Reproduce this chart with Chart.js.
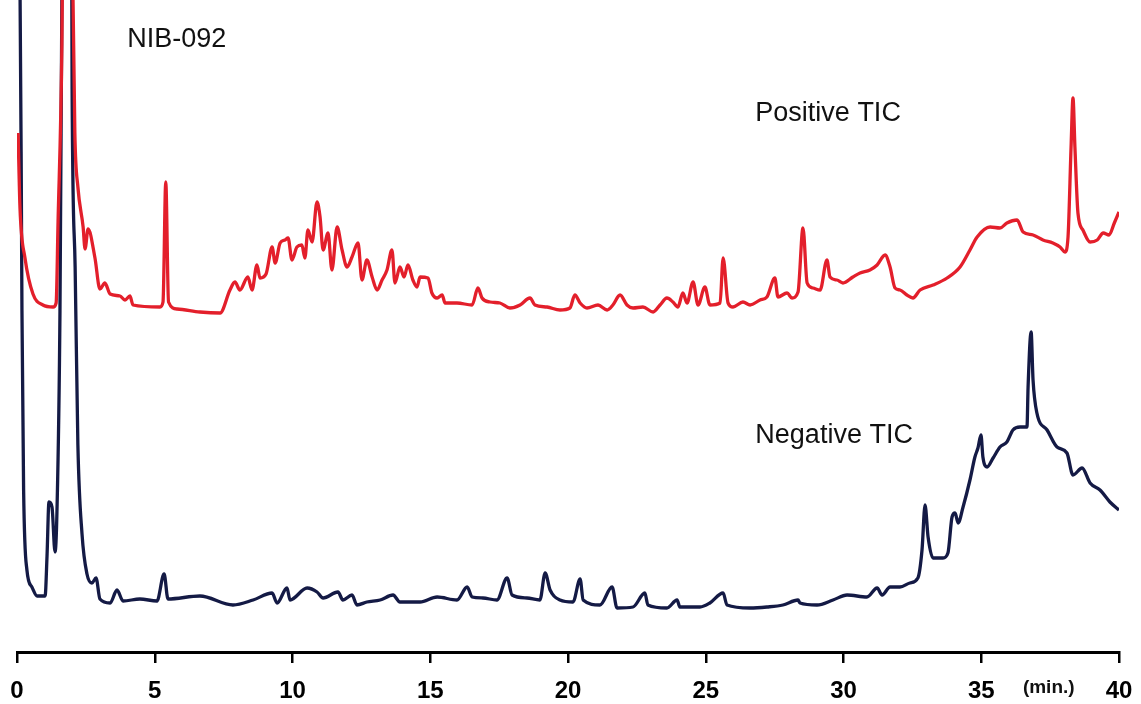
<!DOCTYPE html>
<html>
<head>
<meta charset="utf-8">
<script src="https://cdn.jsdelivr.net/npm/chart.js@4"></script>
<style>
  html, body { margin: 0; padding: 0; background: #fff; }
  canvas { display: block; }
</style>
</head>
<body>
<canvas id="tic" width="1141" height="704"></canvas>
<script>
// retention time (min) and relative intensity
var posTime = [0.04, 0.11, 0.29, 0.58, 0.94, 1.31, 1.42, 1.49, 1.63, 1.72, 1.95, 2.03, 2.10, 2.21, 2.40, 2.47, 2.58, 2.83, 3.01, 3.19, 3.38, 3.74, 3.92, 4.10, 4.21, 5.19, 5.30, 5.40, 5.50, 5.81, 6.64, 7.37, 7.73, 7.91, 8.09, 8.38, 8.53, 8.71, 8.82, 9.04, 9.26, 9.37, 9.55, 9.73, 9.84, 9.98, 10.16, 10.34, 10.45, 10.56, 10.71, 10.89, 11.00, 11.11, 11.29, 11.43, 11.62, 11.80, 11.98, 12.16, 12.38, 12.52, 12.70, 12.89, 13.07, 13.25, 13.43, 13.61, 13.72, 13.90, 14.05, 14.19, 14.37, 14.52, 14.63, 14.92, 15.06, 15.25, 15.43, 15.54, 15.97, 16.52, 16.73, 16.88, 17.17, 17.53, 17.89, 18.26, 18.62, 18.80, 19.24, 19.71, 20.07, 20.25, 20.44, 20.69, 21.09, 21.42, 21.63, 21.89, 22.14, 22.36, 22.72, 23.09, 23.34, 23.59, 23.81, 23.99, 24.17, 24.32, 24.54, 24.72, 24.97, 25.15, 25.52, 25.63, 25.81, 25.99, 26.35, 26.61, 26.97, 27.22, 27.51, 27.62, 27.95, 28.13, 28.35, 28.53, 28.68, 28.89, 29.15, 29.40, 29.51, 29.76, 29.98, 30.34, 30.60, 30.96, 31.22, 31.51, 31.69, 31.87, 32.05, 32.30, 32.52, 32.78, 33.25, 33.76, 34.23, 34.59, 34.85, 35.32, 35.68, 35.93, 36.30, 36.52, 36.88, 37.24, 37.60, 37.86, 38.04, 38.15, 38.26, 38.33, 38.40, 38.51, 38.69, 38.95, 39.21, 39.43, 39.64, 39.83, 40.00];
var posInt = [519, 443, 394, 358, 347, 345, 349, 430, 608, 900, 1000, 660, 519, 465, 425, 403, 423, 394, 363, 369, 358, 356, 352, 356, 347, 345, 350, 470, 350, 343, 340, 339, 362, 370, 362, 375, 362, 387, 374, 378, 405, 389, 409, 412, 414, 392, 405, 407, 394, 422, 410, 450, 435, 402, 419, 382, 425, 402, 385, 395, 409, 372, 392, 375, 362, 372, 382, 402, 369, 385, 375, 387, 372, 365, 375, 374, 359, 354, 357, 349, 349, 347, 364, 354, 350, 349, 344, 347, 354, 347, 345, 342, 344, 357, 349, 344, 347, 342, 347, 357, 347, 344, 345, 340, 347, 354, 350, 345, 359, 349, 370, 347, 365, 347, 349, 394, 349, 345, 350, 347, 352, 355, 374, 355, 359, 354, 360, 424, 369, 364, 362, 392, 375, 372, 369, 375, 379, 382, 387, 397, 385, 364, 362, 357, 354, 362, 367, 374, 385, 402, 415, 425, 424, 429, 432, 420, 417, 412, 409, 405, 400, 415, 505, 554, 505, 439, 422, 410, 412, 419, 417, 429, 440];

var negTime = [0.05, 0.15, 0.18, 0.24, 0.36, 0.54, 0.73, 1.02, 1.09, 1.16, 1.27, 1.38, 1.45, 1.56, 1.63, 1.70, 1.95, 2.00, 2.11, 2.21, 2.36, 2.54, 2.72, 2.87, 3.01, 3.38, 3.63, 3.85, 4.46, 5.08, 5.34, 5.48, 6.64, 7.84, 8.57, 9.26, 9.44, 9.80, 9.91, 10.53, 10.89, 11.11, 11.65, 11.83, 12.16, 12.34, 12.70, 13.18, 13.65, 13.90, 14.63, 15.25, 15.97, 16.34, 16.52, 16.91, 17.42, 17.79, 17.97, 18.51, 18.98, 19.17, 19.35, 19.71, 20.18, 20.44, 20.55, 21.16, 21.60, 21.78, 22.36, 22.79, 22.90, 23.59, 23.96, 24.06, 24.79, 25.15, 25.63, 25.77, 26.61, 27.22, 27.80, 28.35, 28.42, 29.04, 29.62, 30.13, 30.85, 31.22, 31.40, 31.69, 32.05, 32.41, 32.70, 32.85, 32.96, 33.07, 33.25, 33.61, 33.79, 33.94, 34.05, 34.16, 34.34, 34.59, 34.77, 34.88, 34.99, 35.06, 35.21, 35.43, 35.68, 35.93, 36.15, 36.41, 36.66, 36.70, 36.81, 36.88, 37.02, 37.39, 37.75, 38.11, 38.33, 38.66, 38.95, 39.31, 39.67, 40.00];
var negInt = [900, 500, 341, 162, 82, 65, 56, 56, 96, 150, 145, 100, 140, 341, 660, 900, 1000, 563, 385, 207, 118, 78, 69, 74, 53, 49, 62, 51, 53, 51, 78, 53, 56, 47, 52, 59, 49, 64, 52, 64, 60, 54, 60, 52, 57, 47, 50, 52, 57, 50, 50, 55, 52, 65, 55, 54, 52, 74, 57, 54, 52, 79, 62, 52, 50, 73, 52, 47, 65, 44, 45, 59, 47, 44, 52, 45, 45, 49, 59, 47, 44, 45, 47, 52, 49, 47, 52, 57, 55, 64, 57, 65, 65, 69, 74, 102, 147, 115, 94, 94, 99, 135, 139, 129, 145, 172, 195, 204, 217, 195, 185, 194, 205, 210, 222, 225, 225, 265, 320, 272, 239, 222, 205, 199, 177, 184, 169, 162, 150, 142];

var xTicks = [0, 5, 10, 15, 20, 25, 30, 35, 40];

// text labels: [text, time, intensity]
var notes = [
  ['NIB-092', 4.0, 605],
  ['Positive TIC', 26.8, 531],
  ['Negative TIC', 26.8, 209]
];

function pts(t, v) {
  var out = [];
  for (let i = 0; i < t.length; i++) out.push({x: t[i], y: v[i]});
  return out;
}

const notePlugin = {
  id: 'notes',
  afterDraw(chart) {
    const c = chart.ctx, xs = chart.scales.x, ys = chart.scales.y;
    c.save();
    c.fillStyle = '#111';
    c.font = '27px "Liberation Sans", Arial, sans-serif';
    c.textAlign = 'left';
    c.textBaseline = 'alphabetic';
    notes.forEach(n => c.fillText(n[0], xs.getPixelForValue(n[1]), ys.getPixelForValue(n[2])));
    // axis unit label, sits between the 35 and 40 ticks
    c.font = 'bold 19px "Liberation Sans Narrow", "Liberation Sans", Arial, sans-serif';
    c.textAlign = 'center';
    c.textBaseline = 'middle';
    c.fillText('(min.)', xs.getPixelForValue(37.45), xs.bottom - 16);
    c.restore();
  }
};

new Chart(document.getElementById('tic').getContext('2d'), {
  type: 'line',
  data: {
    datasets: [
      {label: 'Positive TIC', data: pts(posTime, posInt), borderColor: '#e31f2b', borderWidth: 3.3},
      {label: 'Negative TIC', data: pts(negTime, negInt), borderColor: '#141a45', borderWidth: 3.3}
    ]
  },
  options: {
    responsive: false,
    animation: false,
    layout: {padding: {left: 17, right: 22, top: 0, bottom: 0}},
    plugins: {legend: {display: false}, tooltip: {enabled: false}},
    elements: {point: {radius: 0}, line: {cubicInterpolationMode: 'monotone', borderJoinStyle: 'round'}},
    scales: {
      x: {
        type: 'linear', min: 0, max: 40,
        afterBuildTicks: s => { s.ticks = xTicks.map(v => ({value: v})); },
        afterFit: s => { s.height = 52; s.paddingLeft = 0; s.paddingRight = 0; },
        ticks: {color: '#000', maxRotation: 0, padding: 14,
                font: {family: '"Liberation Sans", Arial, sans-serif', size: 24, weight: 'bold'}},
        grid: {display: true, drawOnChartArea: false, drawTicks: true, tickLength: 11, color: '#000', lineWidth: 2.5},
        border: {display: true, color: '#000', width: 3}
      },
      y: {display: false, min: 0, max: 652}
    }
  },
  plugins: [notePlugin]
});
</script>
</body>
</html>
